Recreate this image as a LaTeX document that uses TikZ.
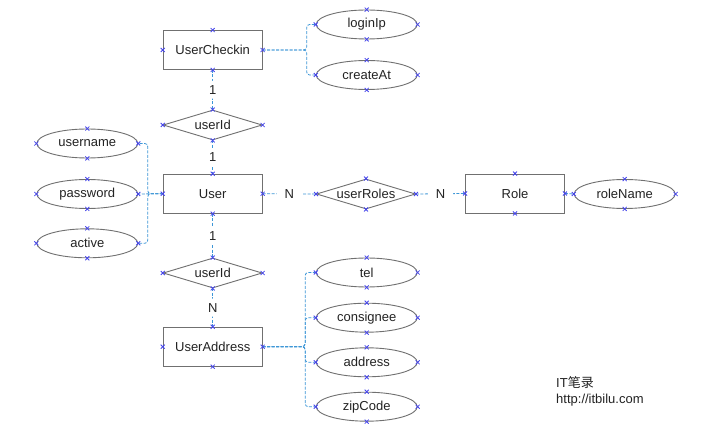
\documentclass[tikz,border=0pt]{standalone}
\usepackage{fontspec}
\setmainfont{Liberation Sans}
\newfontfamily\cjk{Noto Sans CJK SC}
\usetikzlibrary{shapes.geometric}
\definecolor{edgegray}{RGB}{112,112,112}
\definecolor{linkblue}{RGB}{60,150,215}
\definecolor{markblue}{RGB}{70,70,235}
\definecolor{ink}{RGB}{35,35,35}
\tikzset{
  lbl/.style={text=ink, font=\fontsize{13}{15}\selectfont},
  entity/.style={lbl, rectangle, draw=edgegray, line width=0.9pt,
    minimum width=99pt, minimum height=39pt, inner sep=0pt},
  attr/.style={lbl, ellipse, draw=edgegray, line width=0.9pt,
    minimum width=101pt, minimum height=29pt, inner sep=0pt},
  rel/.style={lbl, diamond, aspect=3.3, draw=edgegray, line width=0.9pt,
    minimum width=99pt, minimum height=30pt, inner sep=0pt},
  link/.style={draw=linkblue, line width=0.8pt, dash pattern=on 3pt off 1.5pt,
    rounded corners=3pt},
  card/.style={lbl, fill=white, inner xsep=8pt, inner ysep=4.5pt},
  xmark/.style={draw=markblue, line width=0.8pt},
}
\begin{document}
\begin{tikzpicture}[x=1pt, y=-1pt]
  \useasboundingbox[fill=white] (0,0) rectangle (715,430);

  % entities
  \node[entity] (uc)   at (212.7,50)    {UserCheckin};
  \node[entity] (u)    at (212.7,193.7) {User};
  \node[entity] (ua)   at (212.7,346.7) {UserAddress};
  \node[entity] (role) at (515,193.5)   {Role};

  % relationships
  \node[rel] (r1) at (212.7,125) {userId};
  \node[rel] (rr) at (366,194)   {userRoles};
  \node[rel] (r2) at (212.7,273) {userId};

  % attributes
  \node[attr] (li)   at (366.7,24.5)  {loginIp};
  \node[attr] (ca)   at (366.7,75)    {createAt};
  \node[attr] (un)   at (87.3,143.5)  {username};
  \node[attr] (pw)   at (87.3,194)    {password};
  \node[attr] (ac)   at (87.3,243.3)  {active};
  \node[attr] (rn)   at (624.7,194)   {roleName};
  \node[attr] (tel)  at (366.7,272.5) {tel};
  \node[attr] (cons) at (366.7,317.7) {consignee};
  \node[attr] (addr) at (366.7,362.3) {address};
  \node[attr] (zip)  at (366.7,406.7) {zipCode};

  % relationship lines with cardinalities
  \draw[link] (uc.south) -- node[card] (c1) {1} (r1.north);
  \draw[link] (r1.south) -- node[card] (c2) {1} (u.north);
  \draw[link] (u.south)  -- node[card] (c3) {1} (r2.north);
  \draw[link] (r2.south) -- node[card] (c4) {N} (ua.north);
  \draw[link] (u.east)   -- node[card] (c5) {N} (rr.west);
  \draw[link] (rr.east)  -- node[card] (c6) {N} (role.west);

  % attribute lines
  \draw[link] (uc.east) -- ++(44,0) |- (li.west);
  \draw[link] (uc.east) -- ++(44,0) |- (ca.west);
  \draw[link] (u.west) -- ++(-15,0) |- (un.east);
  \draw[link] (u.west) -- (pw.east);
  \draw[link] (u.west) -- ++(-15,0) |- (ac.east);
  \draw[link] (role.east) -- (rn.west);
  \draw[link] (ua.east) -- ++(42.5,0) |- (tel.west);
  \draw[link] (ua.east) -- ++(42.5,0) |- (cons.west);
  \draw[link] (ua.east) -- ++(42.5,0) |- (addr.west);
  \draw[link] (ua.east) -- ++(42.5,0) |- (zip.west);

  % connection point markers
  \foreach \n in {uc,u,ua,role,r1,rr,r2,li,ca,un,pw,ac,rn,tel,cons,addr,zip}
    \foreach \a in {north,south,east,west}
      \draw[xmark] (\n.\a) +(-2,-2) -- +(2,2) +(-2,2) -- +(2,-2);

  % caption
  \node[lbl, anchor=west, inner sep=0pt] (wm1) at (556,383) {IT{\cjk 笔录}};
  \node[lbl, anchor=west, inner sep=0pt] (wm2) at (556,400) {http://itbilu.com};
\end{tikzpicture}
\end{document}
